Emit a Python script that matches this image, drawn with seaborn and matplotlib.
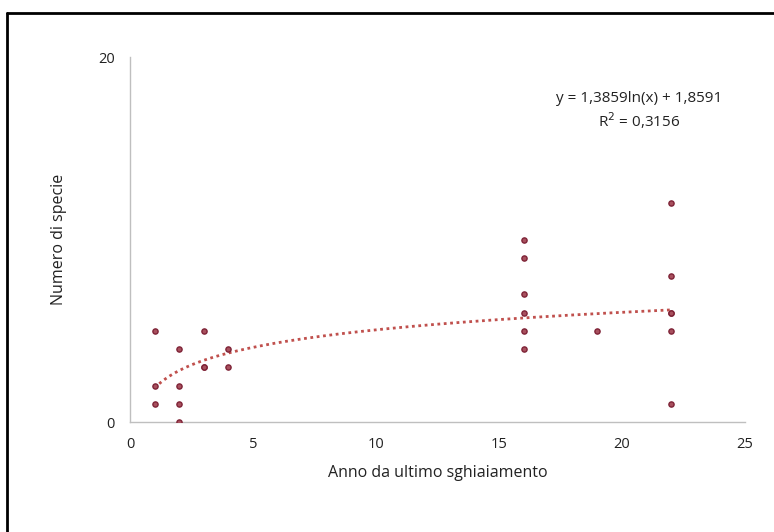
import numpy as np
import pandas as pd
import matplotlib
matplotlib.use("Agg")
import matplotlib.pyplot as plt
from matplotlib.lines import Line2D
import seaborn as sns

# Data
anno = [1, 1, 1, 2, 2, 2, 2, 3, 3, 3, 4, 4,
        16, 16, 16, 16, 16, 16, 19, 22, 22, 22, 22, 22, 22]
specie = [5, 2, 1, 4, 2, 1, 0, 5, 3, 3, 4, 3,
          10, 9, 7, 6, 5, 4, 5, 12, 8, 6, 6, 5, 1]

# Trendline coefficients (logarithmic), as shown on chart
coef_a = 1.3859
coef_b = 1.8591
eq_text = "y = 1,3859ln(x) + 1,8591"
r2_text = "R$^2$ = 0,3156"

x_ticks = [0, 5, 10, 15, 20, 25]
y_ticks = [0, 20]

sns.set_style("white")
plt.rcParams['font.family'] = ['Open Sans', 'DejaVu Sans']

fig = plt.figure(figsize=(7.74, 5.32), dpi=100)
ax = fig.add_axes([130/774, 1-422/532, (745-130)/774, (422-57)/532])

df = pd.DataFrame({"anno": anno, "specie": specie})
xs = np.linspace(min(anno), max(anno), 200)
trend = pd.DataFrame({"x": xs, "y": coef_a*np.log(xs) + coef_b})

sns.lineplot(data=trend, x="x", y="y", ax=ax, color="#C0504D",
             linewidth=2.0, linestyle=(0, (1, 1.3)), zorder=2)
sns.scatterplot(data=df, x="anno", y="specie", ax=ax, s=14,
                color="#a8505e", edgecolor="#7e2236", linewidth=1.0, zorder=3)

ax.set_xlim(0, 25)
ax.set_ylim(0, 20)
ax.set_xticks(x_ticks)
ax.set_yticks(y_ticks)
ax.set_yticks([10], minor=True)
ax.set_xticklabels([str(t) for t in x_ticks])
ax.set_yticklabels([str(t) for t in y_ticks])

for s in ["top", "right"]:
    ax.spines[s].set_visible(False)
for s in ["left", "bottom"]:
    ax.spines[s].set_color("#BFBFBF")
    ax.spines[s].set_linewidth(1.0)

ax.tick_params(axis="both", which="both", direction="out", color="#BFBFBF",
               labelsize=10.5, labelcolor="#222222")
ax.tick_params(axis="y", which="major", length=6, pad=5)
ax.tick_params(axis="y", which="minor", length=4)
ax.tick_params(axis="x", which="major", length=4, pad=7)

ax.set_xlabel("Anno da ultimo sghiaiamento", fontsize=11.5, color="#222222", labelpad=9)
ax.set_ylabel("Numero di specie", fontsize=11.5, color="#222222", labelpad=22)

fig.text(639/774, 1-98/532, eq_text, ha="center", va="center", fontsize=11, color="#222222")
fig.text(639/774, 1-121/532, r2_text, ha="center", va="center", fontsize=11, color="#222222")

# chart area border (left and top visible in reference)
fig.add_artist(Line2D([7/774, 7/774], [0, 1-13/532], transform=fig.transFigure,
                      color="black", linewidth=2))
fig.add_artist(Line2D([7/774, 1], [1-13/532, 1-13/532], transform=fig.transFigure,
                      color="black", linewidth=2))

fig.savefig("out.png", dpi=100)
